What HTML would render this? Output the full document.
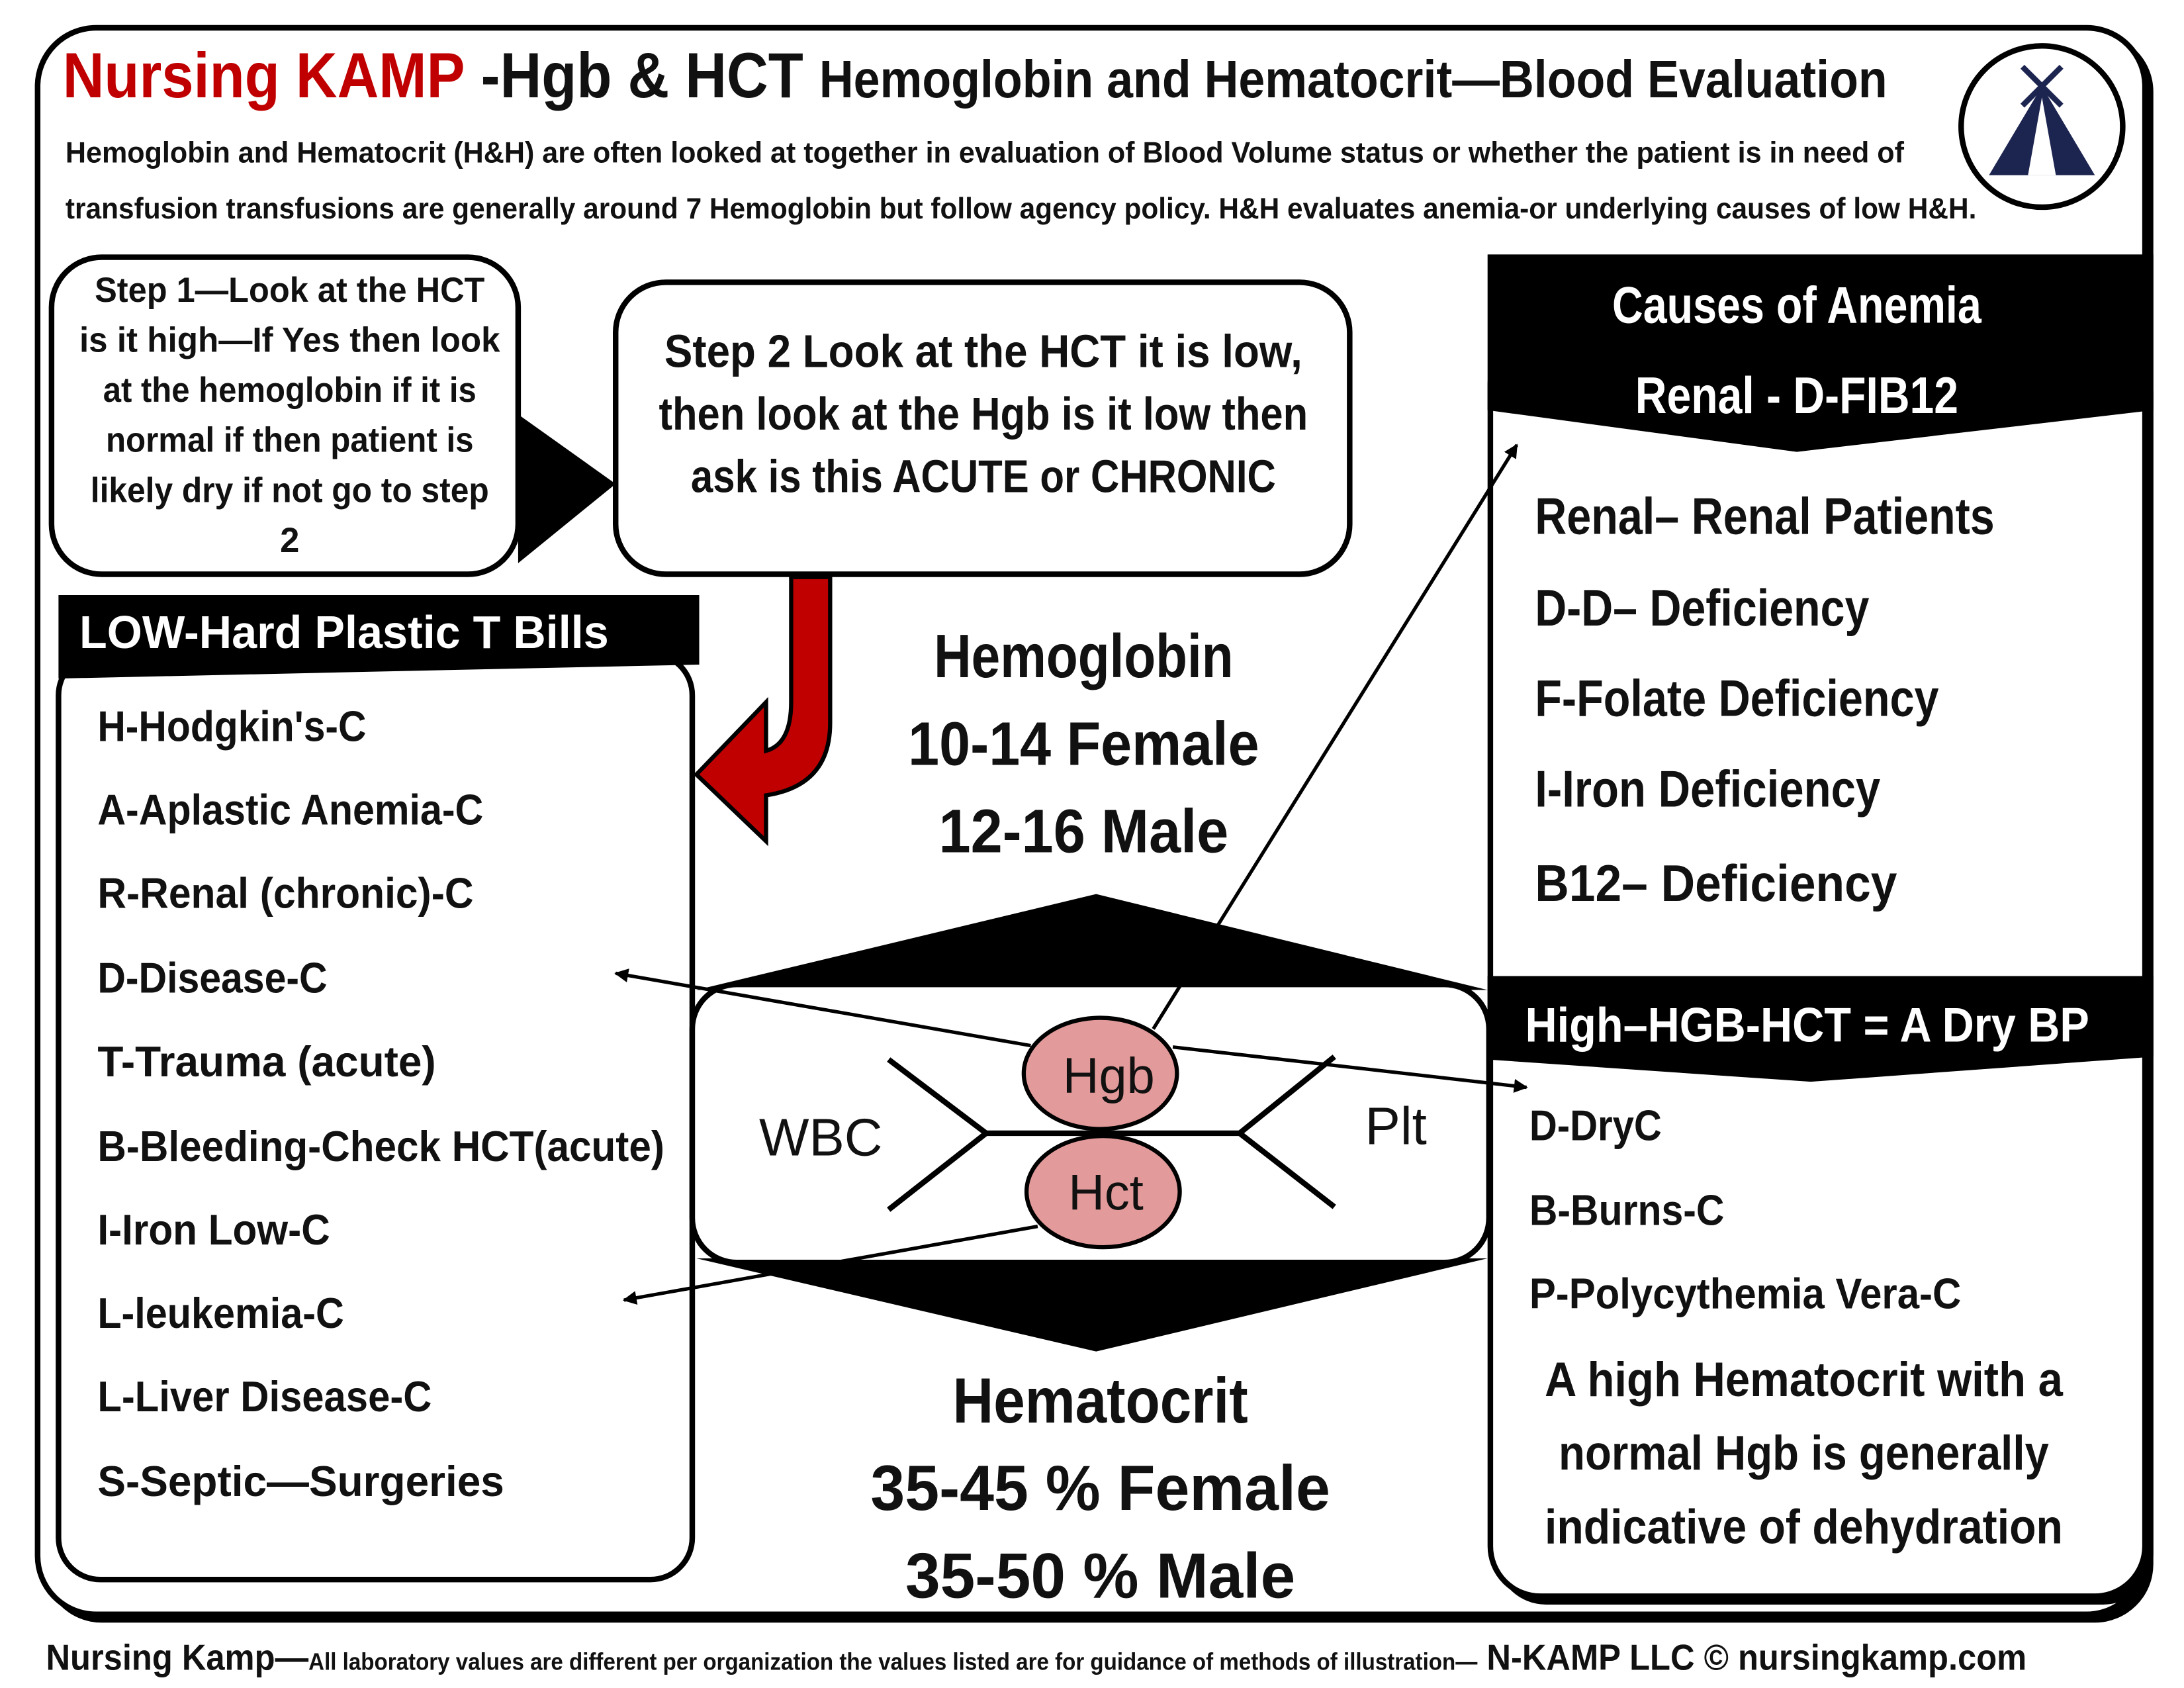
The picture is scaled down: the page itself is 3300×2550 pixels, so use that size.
<!DOCTYPE html>
<html><head><meta charset="utf-8"><style>
html,body{margin:0;padding:0;background:#fff}
svg{display:block}
text{font-family:"Liberation Sans Narrow","Liberation Sans",sans-serif;font-weight:bold;fill:#111}
</style></head><body>
<svg width="3300" height="2550" viewBox="0 0 1568 1214" preserveAspectRatio="none" xmlns="http://www.w3.org/2000/svg">
<defs>
<marker id="ah" markerWidth="10" markerHeight="10" refX="9" refY="5" orient="auto" markerUnits="userSpaceOnUse"><path d="M0,0 L10,5 L0,10 Z" fill="#000"/></marker>
</defs>
<rect x="0" y="0" width="1568" height="1214" fill="#fff"/>
<rect x="31" y="24" width="1515" height="1143" rx="42" fill="#000"/>
<rect x="27" y="20" width="1513" height="1141" rx="42" fill="#fff" stroke="#000" stroke-width="4"/>

<text x="45" y="70" font-size="46" textLength="1310" lengthAdjust="spacingAndGlyphs"><tspan style="fill:#c00000">Nursing KAMP</tspan> -Hgb &amp; HCT <tspan font-size="38">Hemoglobin and Hematocrit—Blood Evaluation</tspan></text>
<text x="47" y="117" font-size="21" textLength="1320" lengthAdjust="spacingAndGlyphs">Hemoglobin and Hematocrit (H&amp;H) are often looked at together in evaluation of Blood Volume status or whether the patient is in need of</text>
<text x="47" y="157" font-size="21" textLength="1372" lengthAdjust="spacingAndGlyphs">transfusion transfusions are generally around 7 Hemoglobin but follow agency policy. H&amp;H evaluates anemia-or underlying causes of low H&amp;H.</text>

<circle cx="1466" cy="91" r="58" fill="#fff" stroke="#000" stroke-width="4"/>
<path d="M1466,62 L1428,126 L1504,126 Z" fill="#1c2450"/>
<path d="M1466,70 L1456,126 L1476,126 Z" fill="#fff"/>
<path d="M1452,48 L1480,76 M1480,48 L1452,76" stroke="#1c2450" stroke-width="4"/>

<rect x="37" y="185" width="335" height="228" rx="36" fill="#fff" stroke="#000" stroke-width="4"/>
<g font-size="25" text-anchor="middle" lengthAdjust="spacingAndGlyphs">
<text x="208" y="217" textLength="280" lengthAdjust="spacingAndGlyphs">Step 1—Look at the HCT</text>
<text x="208" y="253" textLength="302" lengthAdjust="spacingAndGlyphs">is it high—If Yes then look</text>
<text x="208" y="289" textLength="268" lengthAdjust="spacingAndGlyphs">at the hemoglobin if it is</text>
<text x="208" y="325" textLength="264" lengthAdjust="spacingAndGlyphs">normal if then patient is</text>
<text x="208" y="361" textLength="286" lengthAdjust="spacingAndGlyphs">likely dry if not go to step</text>
<text x="208" y="397">2</text>
</g>
<path d="M372,298 L442,348 L372,405 Z" fill="#000"/>

<rect x="442" y="203" width="527" height="210" rx="36" fill="#fff" stroke="#000" stroke-width="4"/>
<g font-size="33" text-anchor="middle">
<text x="706" y="264" textLength="458" lengthAdjust="spacingAndGlyphs">Step 2 Look at the HCT it is low,</text>
<text x="706" y="309" textLength="466" lengthAdjust="spacingAndGlyphs">then look at the Hgb is it low then</text>
<text x="706" y="354" textLength="420" lengthAdjust="spacingAndGlyphs">ask is this ACUTE or CHRONIC</text>
</g>

<path d="M568,415 L596,415 L596,520 Q596,565 550,572 L550,605 L500,557 L550,505 L550,540 Q568,535 568,505 Z" fill="#c00000" stroke="#000" stroke-width="3"/>

<rect x="42" y="470" width="455" height="666" rx="30" fill="#fff" stroke="#000" stroke-width="4"/>
<path d="M42,428 L502,428 L502,478 L42,488 Z" fill="#000"/>
<text x="57" y="466" font-size="33" style="fill:#fff" textLength="380" lengthAdjust="spacingAndGlyphs">LOW-Hard Plastic T Bills</text>
<g font-size="31">
<text x="70" y="533" textLength="193" lengthAdjust="spacingAndGlyphs">H-Hodgkin's-C</text>
<text x="70" y="593" textLength="277" lengthAdjust="spacingAndGlyphs">A-Aplastic Anemia-C</text>
<text x="70" y="653" textLength="270" lengthAdjust="spacingAndGlyphs">R-Renal (chronic)-C</text>
<text x="70" y="714" textLength="165" lengthAdjust="spacingAndGlyphs">D-Disease-C</text>
<text x="70" y="774" textLength="243" lengthAdjust="spacingAndGlyphs">T-Trauma (acute)</text>
<text x="70" y="835" textLength="407" lengthAdjust="spacingAndGlyphs">B-Bleeding-Check HCT(acute)</text>
<text x="70" y="895" textLength="167" lengthAdjust="spacingAndGlyphs">I-Iron Low-C</text>
<text x="70" y="955" textLength="177" lengthAdjust="spacingAndGlyphs">L-leukemia-C</text>
<text x="70" y="1015" textLength="240" lengthAdjust="spacingAndGlyphs">L-Liver Disease-C</text>
<text x="70" y="1076" textLength="292" lengthAdjust="spacingAndGlyphs">S-Septic—Surgeries</text>
</g>

<g font-size="44" text-anchor="middle">
<text x="778" y="487" textLength="215" lengthAdjust="spacingAndGlyphs">Hemoglobin</text>
<text x="778" y="550" textLength="252" lengthAdjust="spacingAndGlyphs">10-14 Female</text>
<text x="778" y="613" textLength="208" lengthAdjust="spacingAndGlyphs">12-16 Male</text>
</g>

<path d="M500,712 L787,643 L1068,712 Z" fill="#000"/>
<path d="M500,905 L787,972 L1068,905 Z" fill="#000"/>
<rect x="497" y="708" width="572" height="200" rx="32" fill="#fff" stroke="#000" stroke-width="4"/>
<g stroke="#000" stroke-width="4" fill="none">
<path d="M708,815 L890,815"/>
<path d="M638,762 L708,815 L638,870"/>
<path d="M958,760 L890,815 L958,868"/>
</g>
<text x="545" y="831" font-size="38" style="font-family:'Liberation Sans',sans-serif;font-weight:normal">WBC</text>
<text x="980" y="823" font-size="38" style="font-family:'Liberation Sans',sans-serif;font-weight:normal">Plt</text>
<ellipse cx="790" cy="772" rx="55" ry="40" fill="#e39a9a" stroke="#000" stroke-width="3"/>
<ellipse cx="792" cy="857" rx="55" ry="40" fill="#e39a9a" stroke="#000" stroke-width="3"/>
<text x="796" y="786" font-size="36" text-anchor="middle" style="font-family:'Liberation Sans',sans-serif;font-weight:normal">Hgb</text>
<text x="794" y="870" font-size="36" text-anchor="middle" style="font-family:'Liberation Sans',sans-serif;font-weight:normal">Hct</text>

<g font-size="46" text-anchor="middle">
<text x="790" y="1023" textLength="212" lengthAdjust="spacingAndGlyphs">Hematocrit</text>
<text x="790" y="1086" textLength="330" lengthAdjust="spacingAndGlyphs">35-45 % Female</text>
<text x="790" y="1149" textLength="280" lengthAdjust="spacingAndGlyphs">35-50 % Male</text>
</g>

<rect x="1074" y="246" width="472" height="908" rx="36" fill="#000"/>
<rect x="1070" y="240" width="470" height="908" rx="36" fill="#fff" stroke="#000" stroke-width="4"/>
<path d="M1068,183 L1546,183 L1546,295 L1290,325 L1068,295 Z" fill="#000"/>
<text x="1290" y="232" font-size="37" text-anchor="middle" style="fill:#fff" textLength="265" lengthAdjust="spacingAndGlyphs">Causes of Anemia</text>
<text x="1290" y="297" font-size="37" text-anchor="middle" style="fill:#fff" textLength="232" lengthAdjust="spacingAndGlyphs">Renal - D-FIB12</text>
<g font-size="37">
<text x="1102" y="384" textLength="330" lengthAdjust="spacingAndGlyphs">Renal– Renal Patients</text>
<text x="1102" y="450" textLength="240" lengthAdjust="spacingAndGlyphs">D-D– Deficiency</text>
<text x="1102" y="515" textLength="290" lengthAdjust="spacingAndGlyphs">F-Folate Deficiency</text>
<text x="1102" y="580" textLength="248" lengthAdjust="spacingAndGlyphs">I-Iron Deficiency</text>
<text x="1102" y="648" textLength="260" lengthAdjust="spacingAndGlyphs">B12– Deficiency</text>
</g>
<path d="M1068,702 L1546,702 L1546,760 L1300,778 L1068,762 Z" fill="#000"/>
<text x="1095" y="749" font-size="35" style="fill:#fff" textLength="405" lengthAdjust="spacingAndGlyphs">High–HGB-HCT = A Dry BP</text>
<g font-size="31">
<text x="1098" y="820" textLength="95" lengthAdjust="spacingAndGlyphs">D-DryC</text>
<text x="1098" y="881" textLength="140" lengthAdjust="spacingAndGlyphs">B-Burns-C</text>
<text x="1098" y="941" textLength="310" lengthAdjust="spacingAndGlyphs">P-Polycythemia Vera-C</text>
</g>
<g font-size="35" text-anchor="middle">
<text x="1295" y="1004" textLength="372" lengthAdjust="spacingAndGlyphs">A high Hematocrit with a</text>
<text x="1295" y="1057" textLength="352" lengthAdjust="spacingAndGlyphs">normal Hgb is generally</text>
<text x="1295" y="1110" textLength="372" lengthAdjust="spacingAndGlyphs">indicative of dehydration</text>
</g>

<g stroke="#000" stroke-width="2.5" fill="none">
<line x1="828" y1="740" x2="1089" y2="320" marker-end="url(#ah)"/>
<line x1="740" y1="752" x2="442" y2="700" marker-end="url(#ah)"/>
<line x1="842" y1="753" x2="1096" y2="782" marker-end="url(#ah)"/>
<line x1="745" y1="882" x2="448" y2="935" marker-end="url(#ah)"/>
</g>

<text x="33" y="1201" font-size="26" textLength="1422" lengthAdjust="spacingAndGlyphs">Nursing Kamp—<tspan font-size="17">All laboratory values are different per organization the values listed are for guidance of methods of illustration—</tspan> N-KAMP LLC © nursingkamp.com</text>
</svg>
</body></html>
